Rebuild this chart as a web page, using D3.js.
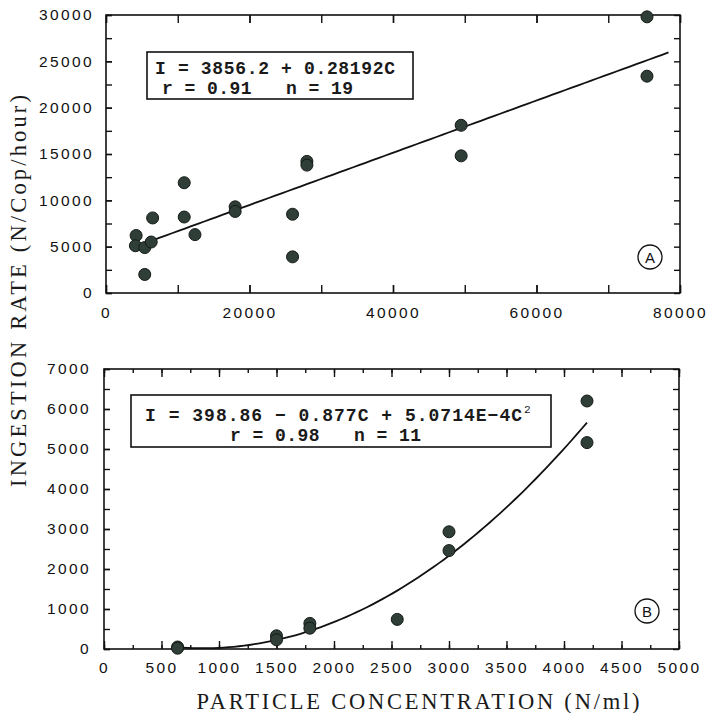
<!DOCTYPE html>
<html>
<head>
<meta charset="utf-8">
<script src="https://cdn.jsdelivr.net/npm/d3@7"></script>
<style>
    body { margin: 0; background: #fff; }
    .tick text { font-family: "Liberation Sans", Arial, sans-serif; font-size: 15.5px; letter-spacing: 2.4px; fill: #111; }
    .domain { display: none; }
    .tick line { stroke: #111; stroke-width: 1.4; }
    .eq { white-space: pre; }
</style>
</head>
<body>
<div class="canvas"></div>
<script>
// panel A : ingestion rate vs particle concentration (linear fit)
const aConc = [4200, 4100, 5400, 6300, 5400, 6500, 10900, 10900, 12400, 18000, 18000, 26000, 26000, 28000, 28000, 49500, 49500, 75400, 75400];
const aRate = [6200, 5100, 4900, 5500, 2000, 8100, 11900, 8200, 6300, 9300, 8800, 8500, 3900, 14200, 13800, 18100, 14800, 29800, 23400];
const aXTicks = [0, 20000, 40000, 60000, 80000];
const aYTicks = [0, 5000, 10000, 15000, 20000, 25000, 30000];
const aFit = [3856.2, 0.28192];
const aFitRange = [6500, 78400];
const aEquation = ['I = 3856.2 + 0.28192C', 'r = 0.91   n = 19'];

// panel B : quadratic fit
const bConc = [640, 640, 1500, 1500, 1790, 1790, 2550, 3000, 3000, 4200, 4200];
const bRate = [50, 20, 330, 230, 640, 520, 740, 2930, 2460, 6200, 5160];
const bXTicks = [0, 500, 1000, 1500, 2000, 2500, 3000, 3500, 4000, 4500, 5000];
const bYTicks = [0, 1000, 2000, 3000, 4000, 5000, 6000, 7000];
const bFit = [398.86, -0.877, 5.0714E-4];
const bFitRange = [640, 4200];
const bEquation = ['I = 398.86 \u2212 0.877C + 5.0714E\u22124C', 'r = 0.98   n = 11'];

const svg = d3.select('.canvas')
    .append('svg')
    .attr('width', 710)
    .attr('height', 713)
;

const polyval = (c, x) => c.reduce((s, k, i) => s + k * Math.pow(x, i), 0);

const drawPanel = (p) => {
    const x = d3.scaleLinear().domain(p.xDomain).range([p.left, p.right]);
    const y = d3.scaleLinear().domain(p.yDomain).range([p.bottom, p.top]);
    const g = svg.append('g');

    // minor + major ticks, all pointing inwards
    const minorX = d3.range(p.xDomain[0], p.xDomain[1] + 1, p.xMinor);
    const minorY = d3.range(p.yDomain[0], p.yDomain[1] + 1, p.yMinor);

    g.append('g')
        .attr('transform', `translate(0, ${p.bottom})`)
        .call(d3.axisBottom(x).tickValues(minorX).tickSize(-p.xMinorLen).tickFormat(''));
    g.append('g')
        .attr('transform', `translate(0, ${p.bottom})`)
        .call(d3.axisBottom(x).tickValues(p.xTicks).tickSize(-p.xMajorLen).tickPadding(p.xPad).tickFormat(d3.format('d')));
    g.append('g')
        .attr('transform', `translate(0, ${p.top})`)
        .call(d3.axisTop(x).tickValues(minorX).tickSize(-p.xMinorLen).tickFormat(''));
    g.append('g')
        .attr('transform', `translate(0, ${p.top})`)
        .call(d3.axisTop(x).tickValues(p.xTicks).tickSize(-p.xMajorLen).tickFormat(''));

    g.append('g')
        .attr('transform', `translate(${p.left}, 0)`)
        .call(d3.axisLeft(y).tickValues(minorY).tickSize(-6).tickFormat(''));
    g.append('g')
        .attr('transform', `translate(${p.left}, 0)`)
        .call(d3.axisLeft(y).tickValues(p.yTicks).tickSize(-6).tickPadding(p.yPad).tickFormat(d3.format('d')));
    g.append('g')
        .attr('transform', `translate(${p.right}, 0)`)
        .call(d3.axisRight(y).tickValues(minorY).tickSize(-6).tickFormat(''));

    // frame
    g.append('rect')
        .attr('x', p.left)
        .attr('y', p.top)
        .attr('width', p.right - p.left)
        .attr('height', p.bottom - p.top)
        .attr('fill', 'none')
        .attr('stroke', '#111')
        .attr('stroke-width', 1.6)
    ;

    // fitted curve
    const fitX = d3.range(p.fitRange[0], p.fitRange[1], (p.fitRange[1] - p.fitRange[0]) / 80).concat([p.fitRange[1]]);
    g.append('path')
        .datum(fitX)
        .attr('fill', 'none')
        .attr('stroke', '#111')
        .attr('stroke-width', 1.8)
        .attr('d', d3.line().x(d => x(d)).y(d => y(polyval(p.fit, d))))
    ;

    // points
    g.selectAll('circle.pt')
        .data(p.conc.map((c, i) => ({ c, r: p.rate[i] })))
        .enter()
        .append('circle')
            .attr('class', 'pt')
            .attr('cx', d => x(d.c))
            .attr('cy', d => y(d.r))
            .attr('r', 6)
            .attr('fill', '#2f3e36')
            .attr('stroke', '#141a16')
            .attr('stroke-width', 1)
    ;

    // equation box
    const b = p.box;
    g.append('rect')
        .attr('x', b.x).attr('y', b.y)
        .attr('width', b.w).attr('height', b.h)
        .attr('fill', '#fff')
        .attr('stroke', '#111')
        .attr('stroke-width', 1.6)
    ;
    p.equation.forEach((line, i) => {
        g.append('text')
            .attr('class', 'eq')
            .attr('x', b.lines[i].x)
            .attr('y', b.lines[i].y)
            .attr('textLength', b.lines[i].len)
            .attr('lengthAdjust', 'spacing')
            .style('font-family', '"Liberation Mono", "DejaVu Sans Mono", monospace')
            .style('font-weight', 'bold')
            .style('font-size', '18px')
            .style('fill', '#1a1a1a')
            .text(line)
        ;
        if (i === 0 && p.sup) {
            g.append('text')
                .attr('x', b.lines[i].x + b.lines[i].len + 2)
                .attr('y', b.lines[i].y - 8)
                .style('font-family', '"Liberation Mono", monospace')
                .style('font-size', '11px')
                .style('fill', '#1a1a1a')
                .text(p.sup)
            ;
        }
    });

    // panel letter
    g.append('circle')
        .attr('cx', p.right + p.tag.dx)
        .attr('cy', p.bottom + p.tag.dy)
        .attr('r', 12)
        .attr('fill', 'none')
        .attr('stroke', '#111')
        .attr('stroke-width', 1.3)
    ;
    g.append('text')
        .attr('x', p.right + p.tag.dx)
        .attr('y', p.bottom + p.tag.dy + 5.5)
        .attr('text-anchor', 'middle')
        .style('font-family', '"Liberation Sans", Arial, sans-serif')
        .style('font-size', '15px')
        .style('fill', '#111')
        .text(p.tag.label)
    ;
};

drawPanel({
    left: 106, right: 680, top: 15, bottom: 293,
    xDomain: [0, 80000], yDomain: [0, 30000],
    xTicks: aXTicks, yTicks: aYTicks,
    xMinor: 10000, yMinor: 2500,
    xMajorLen: 8, xMinorLen: 8, xPad: 14, yPad: 12,
    conc: aConc, rate: aRate,
    fit: aFit, fitRange: aFitRange,
    equation: aEquation,
    box: { x: 147, y: 52, w: 266, h: 47, lines: [{ x: 155, y: 74, len: 240 }, { x: 162, y: 94, len: 191 }] },
    tag: { label: 'A', dx: -30, dy: -36 }
});

drawPanel({
    left: 104, right: 679, top: 369, bottom: 649,
    xDomain: [0, 5000], yDomain: [0, 7000],
    xTicks: bXTicks, yTicks: bYTicks,
    xMinor: 250, yMinor: 500,
    xMajorLen: 8, xMinorLen: 4, xPad: 13, yPad: 13,
    conc: bConc, rate: bRate,
    fit: bFit, fitRange: bFitRange,
    equation: bEquation, sup: '2',
    box: { x: 131, y: 395, w: 420, h: 52, lines: [{ x: 145, y: 421, len: 377 }, { x: 230, y: 441, len: 191 }] },
    tag: { label: 'B', dx: -32, dy: -38 }
});

// axis titles
svg.append('text')
    .attr('transform', 'translate(26, 291) rotate(-90)')
    .attr('text-anchor', 'middle')
    .attr('textLength', 392)
    .attr('lengthAdjust', 'spacing')
    .style('font-family', '"Liberation Serif", "DejaVu Serif", serif')
    .style('font-size', '22.5px')
    .style('fill', '#1a1a1a')
    .text('INGESTION RATE (N/Cop/hour)')
;

svg.append('text')
    .attr('x', 418)
    .attr('y', 709)
    .attr('text-anchor', 'middle')
    .attr('textLength', 443)
    .attr('lengthAdjust', 'spacing')
    .style('font-family', '"Liberation Serif", "DejaVu Serif", serif')
    .style('font-size', '22.5px')
    .style('fill', '#1a1a1a')
    .text('PARTICLE CONCENTRATION (N/ml)')
;
</script>
</body>
</html>
